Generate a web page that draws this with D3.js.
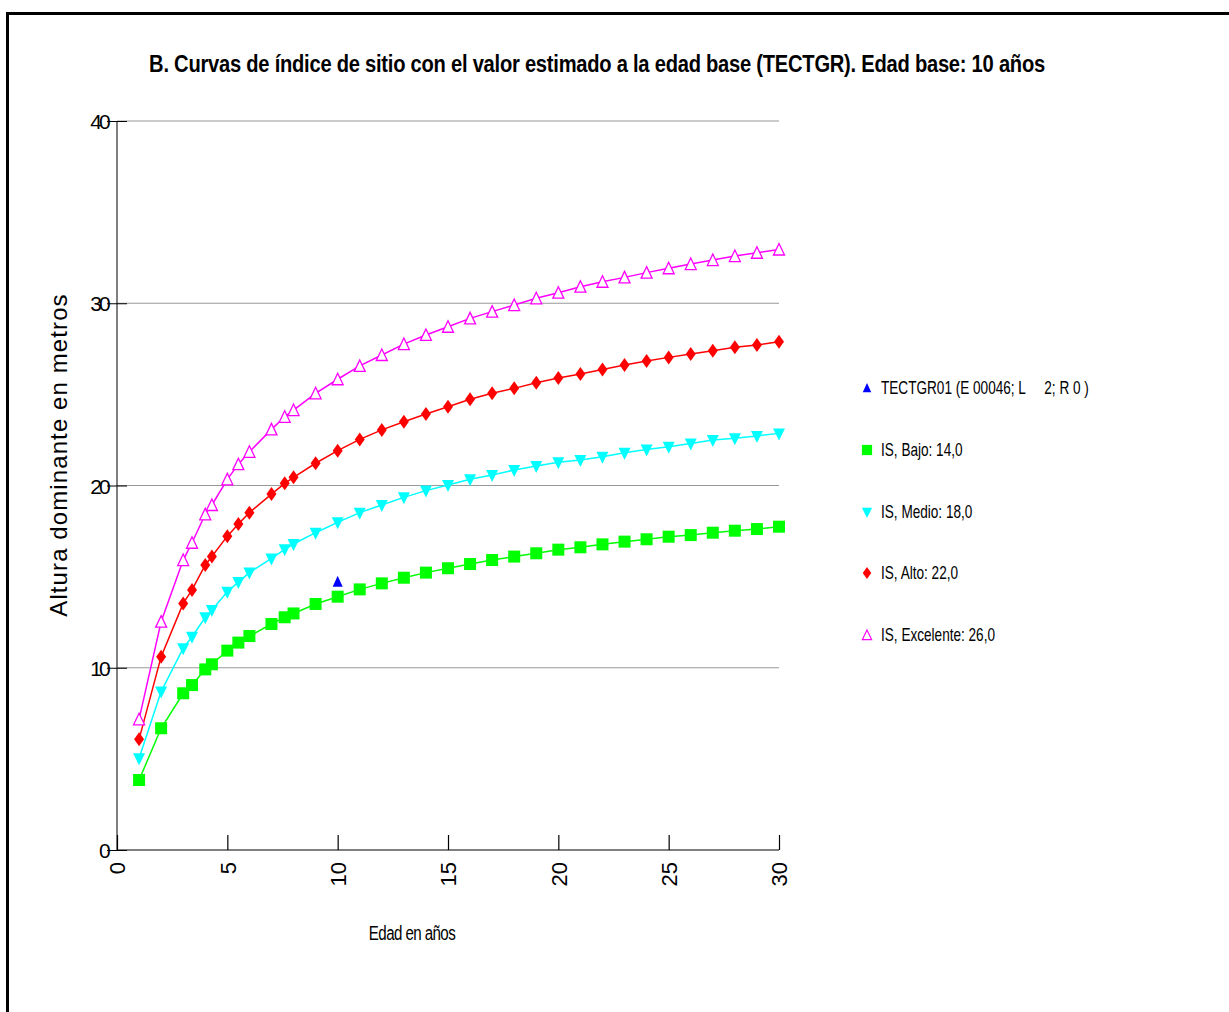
<!DOCTYPE html>
<html><head><meta charset="utf-8">
<script src="https://cdn.jsdelivr.net/npm/d3@7"></script>
<style>
body{margin:0;background:#fff;}
.reg{font-family:"Liberation Sans",Arial,sans-serif;}
</style></head>
<body>
<svg id="c" width="1229" height="1012"></svg>
<script>
const ages = [1,2,3,3.4,4,4.3,5,5.5,6,7,7.6,8,9,10,11,12,13,14,15,16,17,18,19,20,21,22,23,24,25,26,27,28,29,30];
const bajo = [3.84,6.68,8.6,9.05,9.91,10.19,10.94,11.38,11.74,12.4,12.77,12.98,13.5,13.9,14.3,14.63,14.94,15.22,15.46,15.69,15.91,16.1,16.28,16.48,16.61,16.77,16.92,17.05,17.19,17.28,17.41,17.52,17.61,17.74];
const medio = [5.03,8.69,11.07,11.7,12.77,13.17,14.17,14.7,15.22,16.0,16.5,16.79,17.41,17.98,18.51,18.93,19.35,19.72,20.03,20.34,20.58,20.85,21.07,21.27,21.4,21.58,21.8,21.98,22.13,22.31,22.5,22.59,22.72,22.86];
const alto = [6.07,10.61,13.53,14.27,15.64,16.1,17.22,17.89,18.51,19.53,20.12,20.45,21.22,21.91,22.53,23.05,23.5,23.92,24.32,24.73,25.06,25.33,25.64,25.9,26.12,26.37,26.61,26.83,27.03,27.21,27.4,27.58,27.71,27.89];
const excelente = [7.17,12.53,15.91,16.86,18.42,18.93,20.34,21.17,21.85,23.08,23.77,24.14,25.06,25.83,26.56,27.16,27.76,28.26,28.71,29.17,29.54,29.9,30.27,30.58,30.91,31.18,31.42,31.68,31.92,32.15,32.37,32.59,32.77,32.95];
const observed = [{age:10, h:14.72}];
const xTicks = [0,5,10,15,20,25,30];
const yTicks = [0,10,20,30,40];
const labels = ["TECTGR01 (E 00046; L     2; R 0 )","IS, Bajo: 14,0","IS, Medio: 18,0","IS, Alto: 22,0","IS, Excelente: 26,0"];
const title = "B. Curvas de índice de sitio con el valor estimado a la edad base (TECTGR). Edad base: 10 años";

const svg = d3.select("#c");
svg.append("rect").attr("x",7.5).attr("y",13.5).attr("width",1240).attr("height",1010)
  .attr("fill","none").attr("stroke","#000").attr("stroke-width",3);

const x = d3.scaleLinear().domain([0,30]).range([117,779]);
const y = d3.scaleLinear().domain([0,40]).range([850,121]);

svg.append("g").attr("transform","translate(597,72) scale(0.84,1)")
  .append("text").attr("class","reg").attr("x",0).attr("y",0)
  .attr("text-anchor","middle").attr("font-size",24).attr("font-weight","bold")
  .attr("letter-spacing","-0.3").text(title);

svg.append("g").selectAll("line").data(yTicks.filter(d=>d>0)).join("line")
  .attr("x1",117).attr("x2",779).attr("y1",d=>y(d)).attr("y2",d=>y(d))
  .attr("stroke","#999").attr("stroke-width",1.2);

const ya = svg.append("g").attr("transform","translate(117,0)")
  .call(d3.axisLeft(y).tickValues(yTicks).tickSize(10).tickFormat(d3.format("d")));
ya.select(".domain").attr("stroke","#000").attr("d","M0,121V850");
ya.selectAll(".tick line").attr("x1",10).attr("x2",-10).attr("stroke","#000");
ya.selectAll(".tick text").attr("class","reg").attr("font-size",21).attr("x",-9).attr("fill","#000")
  .attr("dy","0.36em").attr("letter-spacing","-2.8");

const xa = svg.append("g").attr("transform","translate(0,850)")
  .call(d3.axisBottom(x).tickValues(xTicks).tickSize(-15).tickFormat(d3.format("d")));
xa.select(".domain").attr("stroke","#000").attr("d","M117,0H779");
xa.selectAll(".tick line").attr("stroke","#000").attr("stroke-width",1.2);
xa.selectAll(".tick text").attr("class","reg").attr("font-size",22).attr("fill","#000")
  .attr("transform","rotate(-90)").attr("text-anchor","end").attr("x",-12).attr("y",0).attr("dy","0.36em");

svg.append("g").attr("transform","translate(412,940) scale(0.72,1)")
  .append("text").attr("class","reg").attr("x",0).attr("y",0).attr("text-anchor","middle")
  .attr("font-size",21).attr("letter-spacing","-0.8").text("Edad en años");
svg.append("text").attr("class","reg").attr("transform","translate(67,455) rotate(-90)")
  .attr("text-anchor","middle").attr("font-size",24).attr("letter-spacing","1.1").text("Altura dominante en metros");

const series = [
  {vals:bajo, color:"#00ff00", sym:"square"},
  {vals:medio, color:"#00ffff", sym:"down"},
  {vals:alto, color:"#ff0000", sym:"diamond"},
  {vals:excelente, color:"#ff00ff", sym:"upopen"}
];
const line = d3.line().x(d=>x(d[0])).y(d=>y(d[1]));

function marker(g, sym, color){
  if(sym==="square"){
    g.append("rect").attr("x",-6).attr("y",-6).attr("width",12).attr("height",12).attr("fill",color);
  } else if(sym==="down"){
    g.append("path").attr("d","M-6,-5L6,-5L0,7Z").attr("fill",color);
  } else if(sym==="diamond"){
    g.append("path").attr("d","M0,-7L5,0L0,7L-5,0Z").attr("fill",color);
  } else if(sym==="upopen"){
    g.append("path").attr("d","M0,-6L5.5,5.5L-5.5,5.5Z").attr("fill","#fff").attr("stroke",color).attr("stroke-width",1.3);
  } else if(sym==="up"){
    g.append("path").attr("d","M0,-6L5,5L-5,5Z").attr("fill",color);
  }
}

series.forEach(s=>{
  const pts = ages.map((a,i)=>[a,s.vals[i]]);
  svg.append("path").datum(pts).attr("d",line).attr("fill","none").attr("stroke",s.color).attr("stroke-width",1.5);
  svg.append("g").selectAll("g").data(pts).join("g")
    .attr("transform",d=>`translate(${x(d[0])},${y(d[1])})`)
    .each(function(){ marker(d3.select(this), s.sym, s.color); });
});

svg.append("g").selectAll("g").data(observed).join("g")
  .attr("transform",d=>`translate(${x(d.age)},${y(d.h)})`)
  .each(function(){ marker(d3.select(this),"up","#0000ff"); });

const legSyms = [["up","#0000ff"],["square","#00ff00"],["down","#00ffff"],["diamond","#ff0000"],["upopen","#ff00ff"]];
const legY = [388,450,512,573,635];
legSyms.forEach((ls,i)=>{
  const g = svg.append("g").attr("transform",`translate(867,${legY[i]})`);
  const m = g.append("g").attr("transform","scale(0.85)");
  marker(m, ls[0], ls[1]);
  g.append("g").attr("transform","translate(14,0) scale(0.755,1)")
    .append("text").attr("class","reg").attr("x",0).attr("y",0).attr("dy","0.36em")
    .attr("font-size",18).style("white-space","pre").text(labels[i]);
});
</script>
</body></html>
